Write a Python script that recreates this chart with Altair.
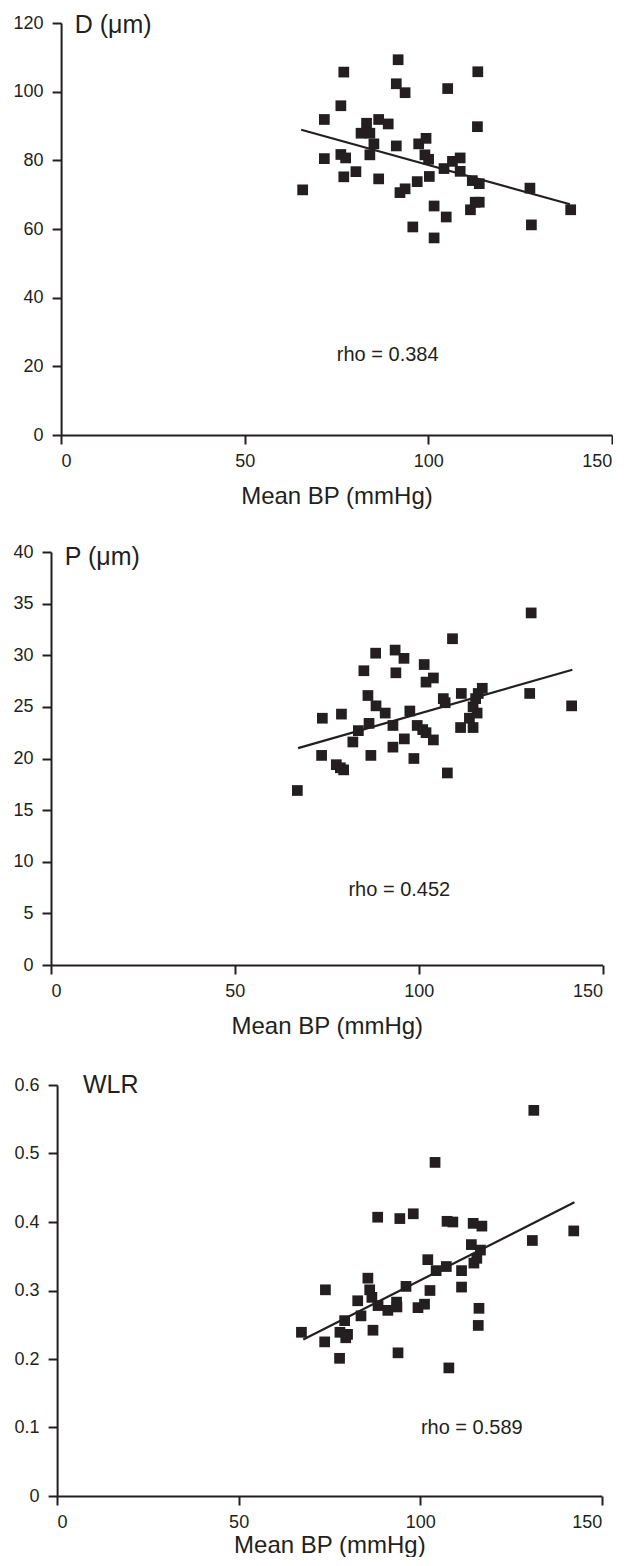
import altair as alt
import pandas as pd

# ---------- data ----------
bp_d = [65.8, 71.7, 71.7, 77.0, 76.2, 76.2, 77.5, 77.0, 80.3, 81.7, 83.2, 84.1, 85.2, 84.1,
        86.5, 86.5, 89.1, 91.8, 91.3, 93.7, 91.3, 92.3, 93.7, 95.8, 97.0, 97.4, 99.4, 99.1,
        100.1, 100.3, 101.6, 101.6, 104.3, 104.9, 105.3, 106.6, 108.7, 108.7, 111.5, 112.0,
        112.8, 113.9, 113.9, 113.4, 113.5, 127.7, 128.1, 138.8]
d_um = [71.4, 91.9, 80.5, 105.7, 95.9, 81.7, 80.7, 75.2, 76.7, 87.9, 90.8, 87.9, 84.8, 81.6,
        74.6, 91.9, 90.6, 109.3, 102.3, 99.7, 84.2, 70.6, 71.7, 60.6, 73.8, 84.8, 86.4, 81.6,
        80.3, 75.3, 66.7, 57.4, 77.6, 63.5, 100.9, 79.7, 80.7, 76.8, 65.6, 74.1, 67.8, 73.2,
        67.8, 89.8, 105.8, 71.9, 61.2, 65.6]

bp_p = [67.0, 73.8, 73.6, 79.0, 77.6, 78.7, 79.6, 82.1, 83.6, 85.1, 86.2, 86.5, 87.0, 88.3,
        88.4, 90.9, 93.0, 93.0, 93.6, 93.8, 96.0, 96.1, 97.6, 98.7, 99.6, 101.1, 101.5, 102.0,
        102.0, 104.0, 104.0, 106.7, 107.2, 107.8, 109.2, 111.4, 111.6, 113.8, 114.8, 114.8,
        115.5, 115.9, 116.2, 117.3, 130.6, 130.2, 141.6]
p_um = [16.9, 23.9, 20.3, 24.3, 19.4, 19.1, 18.9, 21.6, 22.7, 28.5, 26.1, 23.4, 20.3, 30.2,
        25.1, 24.4, 23.2, 21.1, 30.5, 28.3, 29.7, 21.9, 24.6, 20.0, 23.2, 22.8, 29.1, 22.5,
        27.4, 27.8, 21.8, 25.8, 25.4, 18.6, 31.6, 23.0, 26.3, 23.9, 23.0, 25.0, 25.8, 24.4,
        26.3, 26.8, 34.1, 26.3, 25.1]

bp_w = [67.3, 73.9, 73.7, 77.8, 77.9, 80.0, 79.5, 79.2, 82.8, 83.7, 85.6, 86.1, 86.7, 87.0,
        88.3, 88.4, 91.1, 93.5, 93.6, 93.9, 94.4, 96.1, 98.1, 99.4, 101.2, 102.1, 102.7, 104.1,
        104.4, 107.2, 107.9, 107.4, 109.0, 111.4, 111.4, 114.1, 114.6, 117.0, 114.8, 115.6,
        116.6, 116.2, 116.0, 130.9, 131.3, 142.3]
wlr = [0.239, 0.301, 0.225, 0.201, 0.239, 0.236, 0.231, 0.256, 0.285, 0.263, 0.318, 0.301,
       0.290, 0.242, 0.407, 0.278, 0.271, 0.283, 0.276, 0.209, 0.405, 0.306, 0.412, 0.275,
       0.280, 0.345, 0.300, 0.487, 0.329, 0.335, 0.187, 0.401, 0.400, 0.329, 0.305, 0.367,
       0.398, 0.394, 0.340, 0.347, 0.359, 0.274, 0.249, 0.373, 0.563, 0.387]

# fitted line end points as drawn
fit_d_x = [65.4, 138.6]
fit_d_y = [88.9, 67.2]
fit_p_x = [67.2, 141.8]
fit_p_y = [21.0, 28.6]
fit_w_x = [67.8, 142.5]
fit_w_y = [0.2285, 0.4287]

panel_titles = ["D (\u03bcm)", "P (\u03bcm)", "WLR"]
rho_labels = ["rho = 0.384", "rho = 0.452", "rho = 0.589"]
x_ticks = [0, 50, 100, 150]
y_ticks = [[0, 20, 40, 60, 80, 100, 120],
           [0, 5, 10, 15, 20, 25, 30, 35, 40],
           [0, 0.1, 0.2, 0.3, 0.4, 0.5, 0.6]]
y_max = [120, 40, 0.6]
# annotation anchors (data units)
title_pos = [(3.7, 119.4), (3.75, 39.5), (7.1, 0.6)]
rho_pos = [(75.1, 23.2), (80.9, 7.3), (100.2, 0.1)]

INK = "#231f20"
FONT = "Liberation Sans"


def panel(xs, ys, fx, fy, i, shift, plot_w, h, title_pad):
    pts = pd.DataFrame({"bp": xs, "v": ys})
    fit = pd.DataFrame({"bp": fx, "v": fy})
    one = pd.DataFrame({"k": [0]})
    xsc = alt.Scale(domain=[0, 150], nice=False, range=[shift, shift + plot_w])
    ysc = alt.Scale(domain=[0, y_max[i]], nice=False)
    xax = alt.Axis(values=x_ticks, title="Mean BP (mmHg)", format="~f",
                   titlePadding=title_pad, titleX=shift + plot_w / 2)
    yax = alt.Axis(values=y_ticks[i], title=None, format="~f", offset=-shift)
    sq = alt.Chart(pts).mark_square(size=115, color=INK, opacity=1).encode(
        x=alt.X("bp:Q", scale=xsc, axis=xax),
        y=alt.Y("v:Q", scale=ysc, axis=yax),
    )
    ln = alt.Chart(fit).mark_line(color=INK, strokeWidth=2.2).encode(
        x=alt.X("bp:Q", scale=xsc), y=alt.Y("v:Q", scale=ysc)
    )
    t = alt.Chart(one).mark_text(
        text=panel_titles[i], align="left", baseline="middle", fontSize=25,
        font=FONT, color=INK
    ).encode(x=alt.datum(title_pos[i][0]), y=alt.datum(title_pos[i][1]))
    r = alt.Chart(one).mark_text(
        text=rho_labels[i], align="left", baseline="middle", fontSize=20,
        font=FONT, color=INK
    ).encode(x=alt.datum(rho_pos[i][0]), y=alt.datum(rho_pos[i][1]))
    return alt.layer(sq, ln, t, r).properties(width=shift + plot_w, height=h)


c1 = panel(bp_d, d_um, fit_d_x, fit_d_y, 0, 10.1, 550.7, 412, 14)
c2 = panel(bp_p, p_um, fit_p_x, fit_p_y, 1, 0.0, 551.5, 413, 14)
c3 = panel(bp_w, wlr, fit_w_x, fit_w_y, 2, 6.1, 544.6, 411, 2)

chart = alt.vconcat(c1, c2, c3, spacing=35).resolve_scale(
    x="independent", y="independent"
).configure(
    padding={"left": 4, "top": 5, "right": 0, "bottom": 0},
    font=FONT,
).configure_view(stroke=None).configure_axis(
    domainColor=INK, domainWidth=2, tickColor=INK, tickWidth=2, tickSize=9,
    grid=False, labelFont=FONT, labelFontSize=18, labelColor=INK,
    titleFont=FONT, titleFontSize=24, titleFontWeight="normal", titleColor=INK,
).configure_axisX(labelPadding=8).configure_axisY(labelPadding=9)

chart.save("out.html", embed_options={"renderer": "svg", "actions": False})
